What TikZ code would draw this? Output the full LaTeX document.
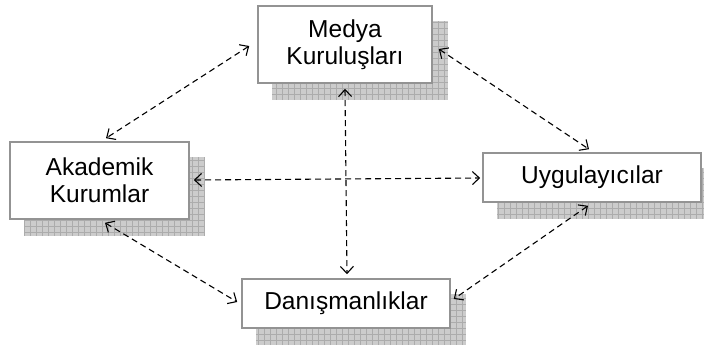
\documentclass[tikz,border=0pt]{standalone}
\usepackage{fontspec}
\setmainfont{Liberation Sans}
\usetikzlibrary{arrows.meta,patterns.meta,backgrounds,calc}

\begin{document}
\begin{tikzpicture}[
    x=1pt, y=-1pt,
    box/.style={rectangle, draw=gray!85, line width=1.6pt, fill=white, align=center, inner sep=0pt, font=\fontsize{24.5}{27}\selectfont},
    shadowbox/.style={preaction={fill=gray!40}, pattern={Hatch[angle=0, distance=6pt, line width=0.6pt]}, pattern color=gray!65},
    arrow/.style={{Straight Barb[length=7pt,width=13pt]}-{Straight Barb[length=7pt,width=13pt]}, line width=1.1pt, dash pattern=on 6pt off 4pt}
]
    \useasboundingbox (0,0) rectangle (704,346);

    % Components
    \node[box, minimum width=174pt, minimum height=77pt] (medya) at (345,44.5) {Medya\\Kuruluşları};
    \node[box, minimum width=179pt, minimum height=77pt] (akademik) at (99.5,180.5) {Akademik\\Kurumlar};
    \node[box, minimum width=208pt, minimum height=49pt] (danis) at (346,303.5) {Danışmanlıklar};
    \node[box, minimum width=218pt, minimum height=49pt] (uygul) at (592,177.5) {Uygulayıcılar};

    % Shadows
    \begin{scope}[on background layer]
        \foreach \n in {medya,akademik,danis,uygul}
            \path[shadowbox] ($(\n.north west)+(15,16)$) rectangle ($(\n.south east)+(15,16)$);
    \end{scope}

    % Links
    \draw[arrow] ($(medya.west)+(-8,1.5)$) -- ($(akademik.north)+(6.5,-3)$);
    \draw[arrow] ($(medya.east)+(6,4.5)$) -- ($(uygul.north)+(-3,-3)$);
    \draw[arrow] ($(medya.south)+(0,5)$) -- ($(danis.north)+(1,-4)$);
    \draw[arrow] ($(akademik.east)+(4,-0.5)$) -- ($(uygul.west)+(-2,0.5)$);
    \draw[arrow] ($(akademik.south)+(5.5,3)$) -- ($(danis.west)+(-4,-1.5)$);
    \draw[arrow] ($(uygul.south)+(-4,3)$) -- ($(danis.east)+(3,-4.5)$);
\end{tikzpicture}
\end{document}
